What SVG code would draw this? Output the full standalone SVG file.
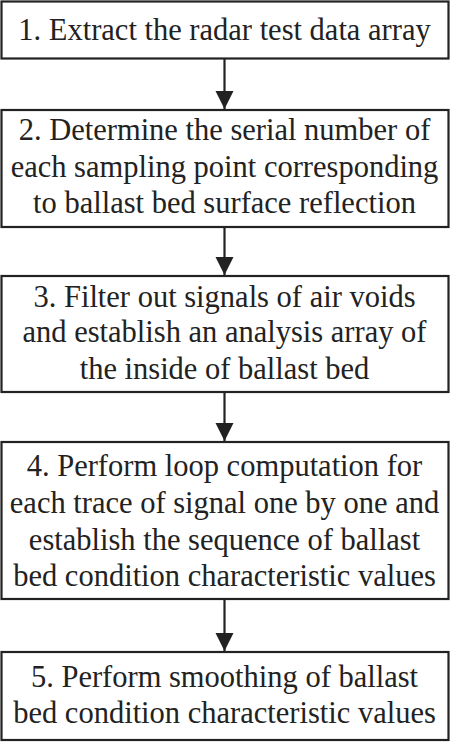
<svg xmlns="http://www.w3.org/2000/svg" width="450" height="742" viewBox="0 0 450 742">
<style>
.box{fill:#fff;stroke:#222;stroke-width:2.2}
.t{font-family:'Liberation Serif','Times New Roman',Times,'DejaVu Serif',serif;font-size:30.5px;fill:#222;text-anchor:middle}
.c{stroke:#222;stroke-width:2.2;fill:none}
</style>
<defs>
<marker id="ah" markerUnits="userSpaceOnUse" markerWidth="18" markerHeight="27" refX="17" refY="8.5" orient="auto" viewBox="0 0 17 17">
<path d="M0,0 L17,8.5 L0,17 Z" fill="#222"/>
</marker>
</defs>
<rect width="450" height="742" fill="#fff"/>
<g id="connectors">
<line class="c" x1="224.5" y1="58.5" x2="224.5" y2="109" marker-end="url(#ah)"/>
<line class="c" x1="224.5" y1="227" x2="224.5" y2="275" marker-end="url(#ah)"/>
<line class="c" x1="224.5" y1="392" x2="224.5" y2="441" marker-end="url(#ah)"/>
<line class="c" x1="224.5" y1="599" x2="224.5" y2="651" marker-end="url(#ah)"/>
</g>
<g id="node1">
<rect class="box" x="1.5" y="1.5" width="447" height="57"/>
<text class="t" font-family="Liberation Serif" x="224.5" y="39.5">1. Extract the radar test data array</text>
</g>
<g id="node2">
<rect class="box" x="1.5" y="110" width="447" height="117"/>
<text class="t" font-family="Liberation Serif" x="224.5" y="139.5">2. Determine the serial number of</text>
<text class="t" font-family="Liberation Serif" x="224.5" y="176.5">each sampling point corresponding</text>
<text class="t" font-family="Liberation Serif" x="224.5" y="213">to ballast bed surface reflection</text>
</g>
<g id="node3">
<rect class="box" x="1.5" y="276" width="447" height="116"/>
<text class="t" font-family="Liberation Serif" x="224.5" y="306.5">3. Filter out signals of air voids</text>
<text class="t" font-family="Liberation Serif" x="224.5" y="342">and establish an analysis array of</text>
<text class="t" font-family="Liberation Serif" x="224.5" y="378.5">the inside of ballast bed</text>
</g>
<g id="node4">
<rect class="box" x="1.5" y="442" width="447" height="157"/>
<text class="t" font-family="Liberation Serif" x="224.5" y="475.5">4. Perform loop computation for</text>
<text class="t" font-family="Liberation Serif" x="224.5" y="513">each trace of signal one by one and</text>
<text class="t" font-family="Liberation Serif" x="224.5" y="549.5">establish the sequence of ballast</text>
<text class="t" font-family="Liberation Serif" x="224.5" y="585.5">bed condition characteristic values</text>
</g>
<g id="node5">
<rect class="box" x="1.5" y="652" width="447" height="88"/>
<text class="t" font-family="Liberation Serif" x="224.5" y="687">5. Perform smoothing of ballast</text>
<text class="t" font-family="Liberation Serif" x="224.5" y="723">bed condition characteristic values</text>
</g>
</svg>
